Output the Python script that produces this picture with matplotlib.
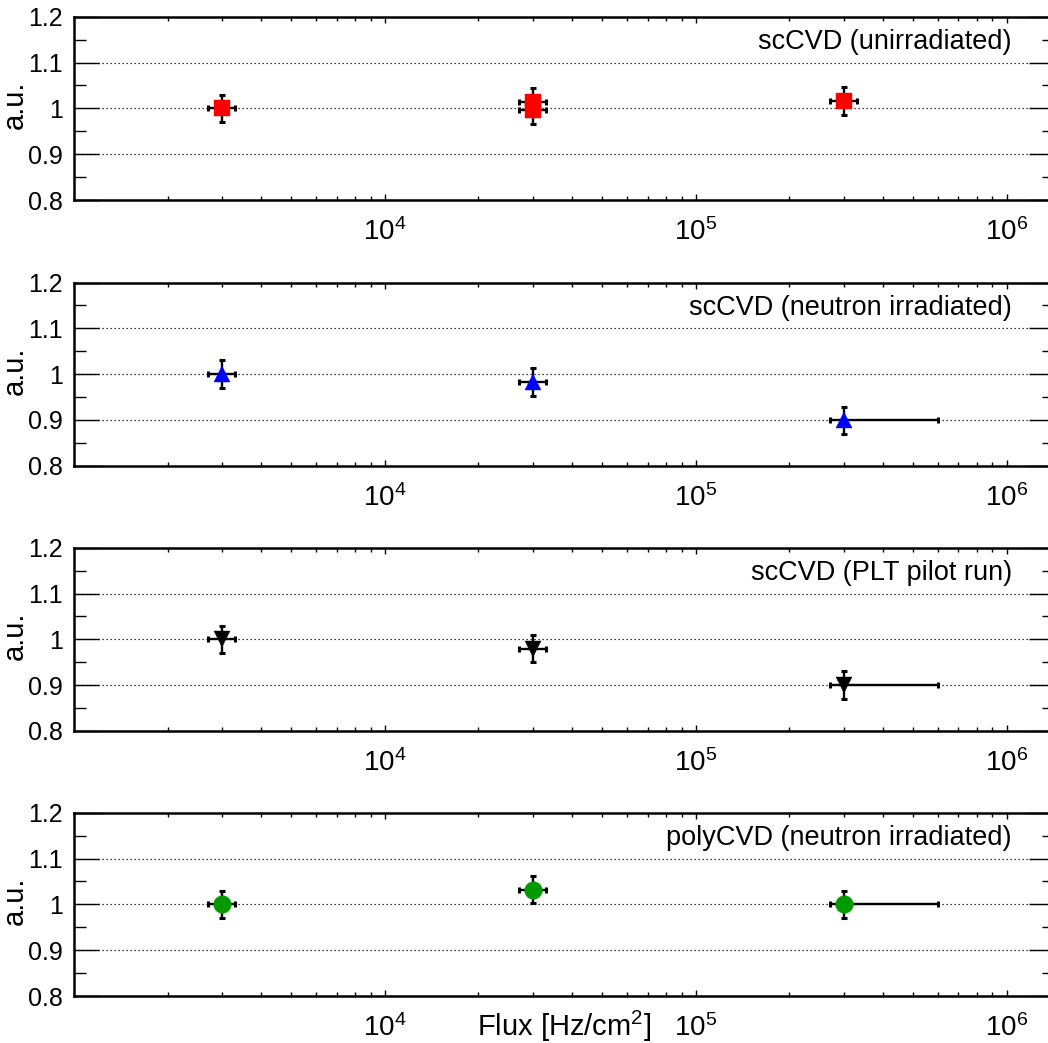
import matplotlib
matplotlib.use("Agg")
import matplotlib.pyplot as plt
from matplotlib.ticker import FixedLocator, FixedFormatter, LogLocator, NullFormatter

plt.rcParams['font.family'] = ['Liberation Sans', 'DejaVu Sans']
plt.rcParams['mathtext.fontset'] = 'custom'
plt.rcParams['mathtext.rm'] = 'Liberation Sans'
plt.rcParams['mathtext.it'] = 'Liberation Sans:italic'

# ---------------- data ----------------
panel_labels = ["scCVD (unirradiated)", "scCVD (neutron irradiated)",
                "scCVD (PLT pilot run)", "polyCVD (neutron irradiated)"]

flux_unirr = [3e3, 3e4, 3e4, 3e5]
val_unirr = [1.000, 1.014, 0.996, 1.016]
xlo_unirr = [3e2, 3e3, 3e3, 3e4]
xhi_unirr = [3e2, 3e3, 3e3, 3e4]

flux_neut = [3e3, 3e4, 3e5]
val_neut = [1.000, 0.983, 0.899]
xlo_neut = [3e2, 3e3, 3e4]
xhi_neut = [3e2, 3e3, 3e5]

flux_plt = [3e3, 3e4, 3e5]
val_plt = [1.000, 0.980, 0.900]
xlo_plt = [3e2, 3e3, 3e4]
xhi_plt = [3e2, 3e3, 3e5]

flux_poly = [3e3, 3e4, 3e5]
val_poly = [1.000, 1.032, 1.000]
xlo_poly = [3e2, 3e3, 3e4]
xhi_poly = [3e2, 3e3, 3e5]

yerr_all = 0.03

ytick_vals = [0.8, 0.9, 1.0, 1.1, 1.2]
ytick_labels = ['0.8', '0.9', '1', '1.1', '1.2']
xtick_vals = [1e4, 1e5, 1e6]
xtick_labels = ['$10^{4}$', '$10^{5}$', '$10^{6}$']

panels = [
    (flux_unirr, val_unirr, xlo_unirr, xhi_unirr, 's', '#ff0000', 12.2),
    (flux_neut, val_neut, xlo_neut, xhi_neut, '^', '#0000ff', 12),
    (flux_plt, val_plt, xlo_plt, xhi_plt, 'v', '#000000', 12),
    (flux_poly, val_poly, xlo_poly, xhi_poly, 'o', '#009900', 12.7),
]

# ---------------- figure ----------------
W, H = 1048, 1043
fig = plt.figure(figsize=(W / 100, H / 100), dpi=100)

left_px, right_px = 74, 1054
tops_px = [16.7, 282.5, 547.7, 812.7]
height_px = 183.3

for i, (x, y, xlo, xhi, mk, col, ms) in enumerate(panels):
    top = tops_px[i]
    ax = fig.add_axes([left_px / W, 1 - (top + height_px) / H,
                       (right_px - left_px) / W, height_px / H])
    ax.set_xscale('log')
    ax.set_xlim(1e3, 1.42e6)
    ax.set_ylim(0.8, 1.2)

    ax.errorbar(x, y, xerr=[xlo, xhi], yerr=yerr_all, fmt='none',
                ecolor='black', elinewidth=1.7, capsize=2.2, capthick=2.2,
                zorder=2)
    ax.plot(x, y, linestyle='none', marker=mk, ms=ms, color=col,
            markeredgecolor=col, markeredgewidth=0.3, zorder=3)

    ax.yaxis.set_major_locator(FixedLocator(ytick_vals))
    ax.yaxis.set_major_formatter(FixedFormatter(ytick_labels))
    ax.yaxis.set_minor_locator(FixedLocator([0.85, 0.95, 1.05, 1.15]))
    ax.xaxis.set_major_locator(FixedLocator(xtick_vals))
    ax.xaxis.set_major_formatter(FixedFormatter(xtick_labels))
    ax.xaxis.set_minor_locator(LogLocator(base=10, subs=range(2, 10), numticks=20))
    ax.xaxis.set_minor_formatter(NullFormatter())

    ax.grid(axis='y', which='major', linestyle=(0, (1, 2.2)), color='black',
            linewidth=0.9)

    ax.tick_params(axis='both', which='both', direction='in', top=True,
                   right=True, color='black')
    ax.tick_params(axis='y', which='major', length=18, width=1.0,
                   labelsize=18, pad=8)
    ax.tick_params(axis='y', which='minor', length=8.6, width=1.0)
    ax.tick_params(axis='x', which='major', length=4.5, width=1.0,
                   labelsize=20, pad=13)
    ax.tick_params(axis='x', which='minor', length=2.8, width=1.0)

    for s in ax.spines.values():
        s.set_linewidth(1.8)

    ax.set_ylabel('a.u.', fontsize=21)
    ax.yaxis.set_label_coords(-0.046, 0.52)

    ax.text(0.957, 0.825, panel_labels[i], transform=ax.transAxes,
            ha='right', va='baseline', fontsize=19.5)

    if i == 3:
        ax.text((564 - left_px) / (right_px - left_px), -40.0 / height_px,
                'Flux [Hz/cm$^{2}$]', transform=ax.transAxes,
                ha='center', va='baseline', fontsize=21)

fig.savefig('out.png', dpi=100)
